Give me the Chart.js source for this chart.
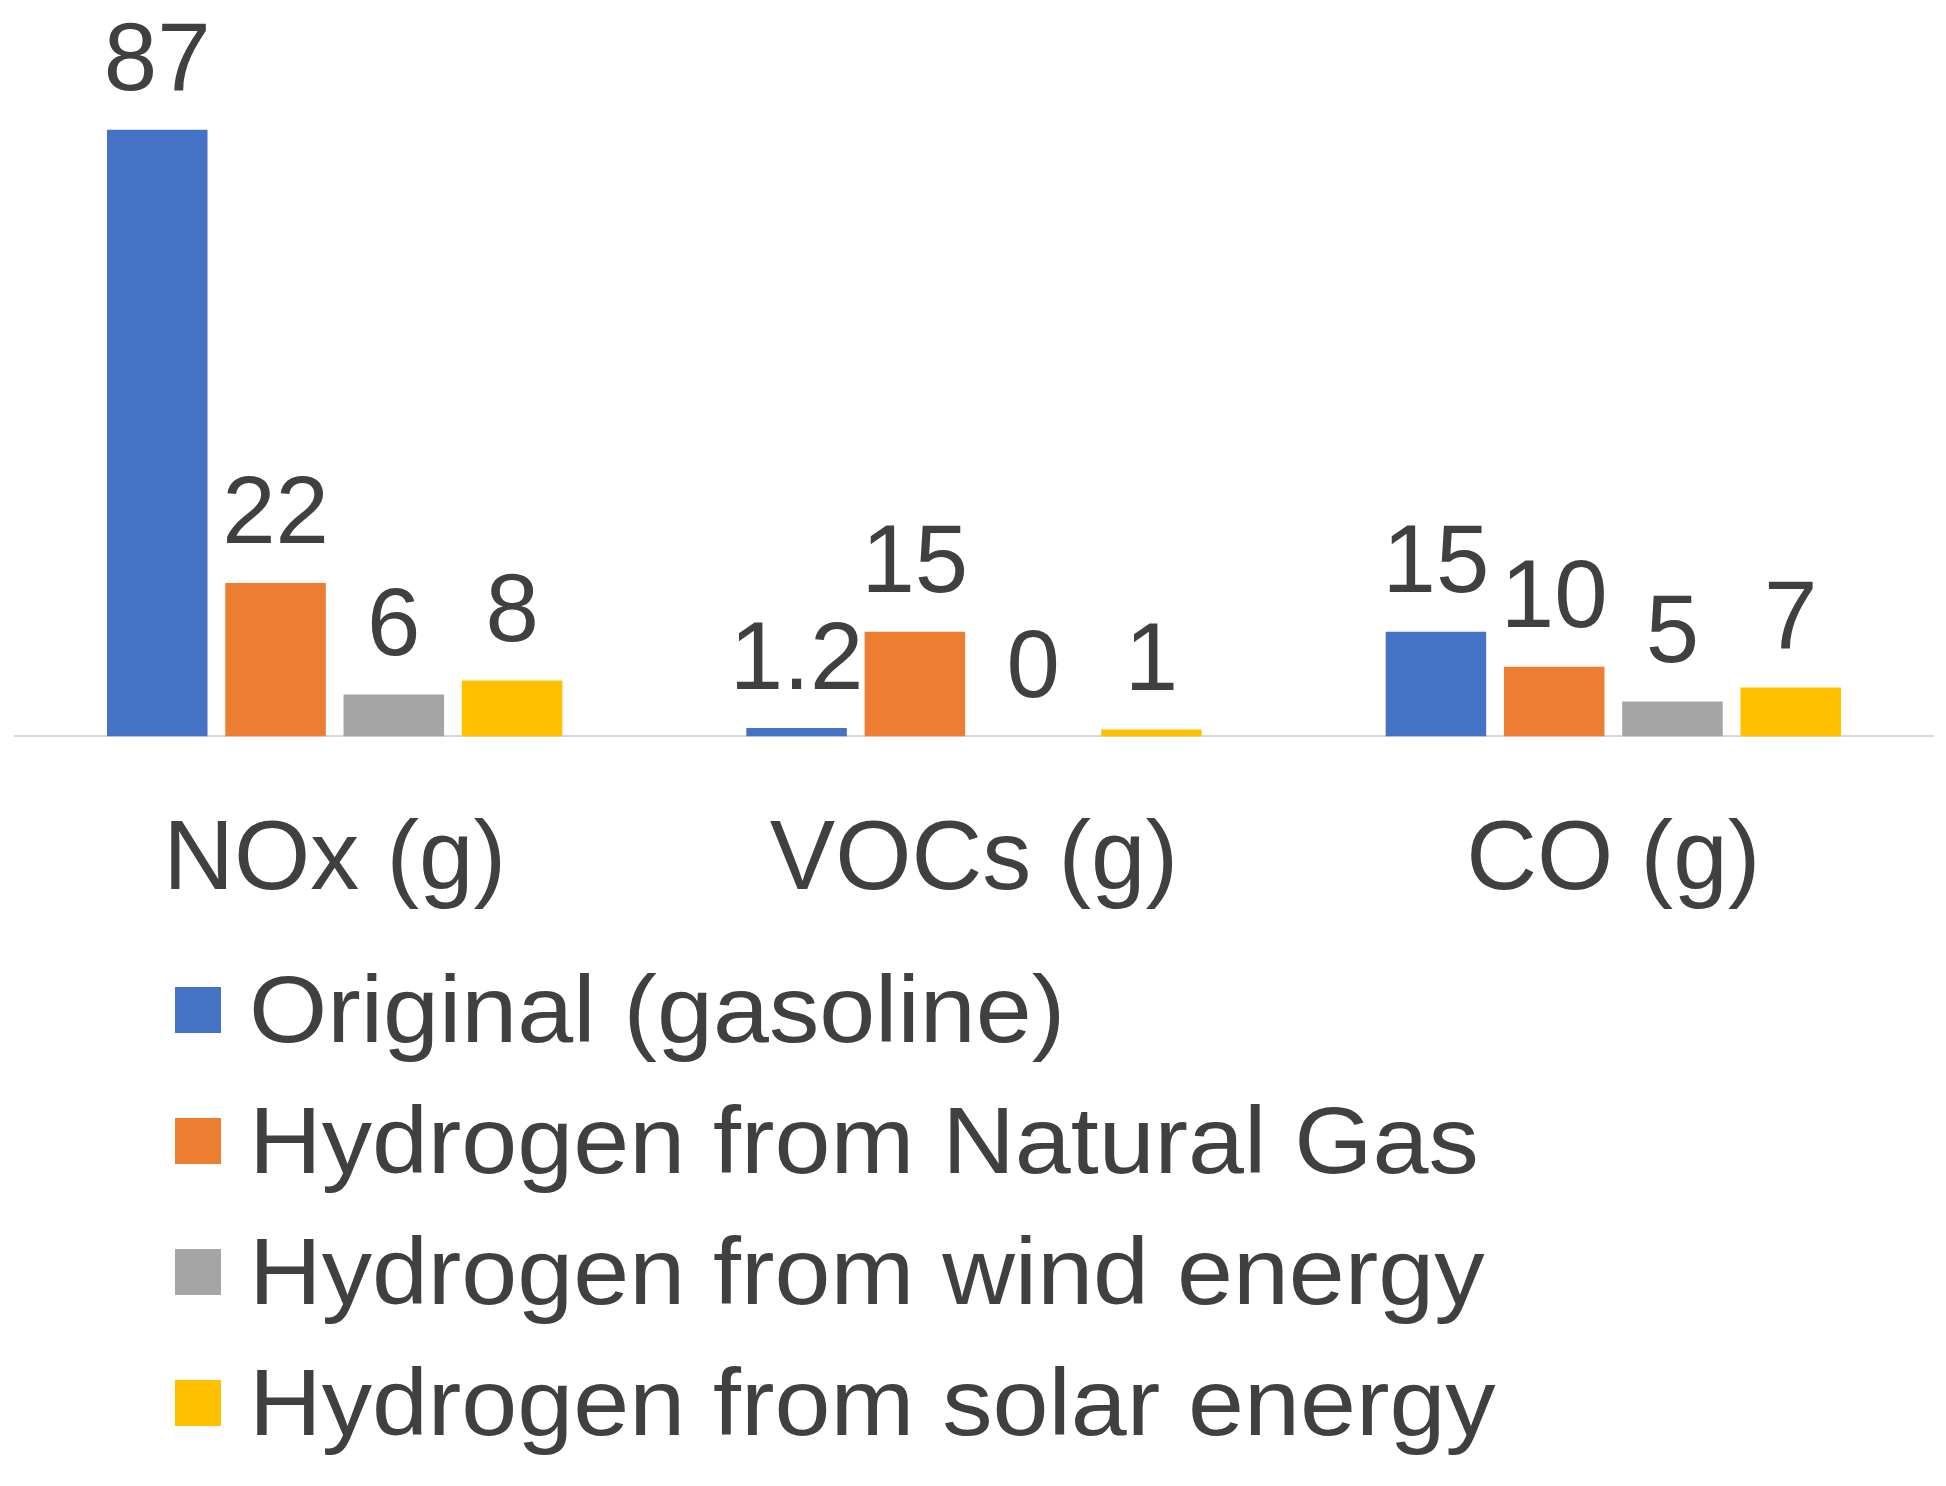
<!DOCTYPE html>
<html>
<head>
<meta charset="utf-8">
<script src="https://cdn.jsdelivr.net/npm/chart.js@4"></script>
<style>
  body { margin: 0; background: #fff; font-family: "Liberation Sans", Arial, sans-serif; }
  #wrap { position: relative; width: 1946px; height: 988px; }
  #legend { position: absolute; left: 175px; top: 944px; color: #404040; font-size: 94px; }
  .item { height: 131px; display: flex; align-items: center; }
  .box { width: 46px; height: 46px; margin-right: 28px; flex: none; }
  .txt { display: inline-block; transform: scaleX(1.07); transform-origin: left center; white-space: nowrap; }
</style>
</head>
<body>
<div id="wrap"><canvas id="emChart"></canvas></div>
<div id="legend"></div>
<script>
// Dữ liệu
const categories = ['NOx (g)', 'VOCs (g)', 'CO (g)'];
const seriesNames = ['Original (gasoline)', 'Hydrogen from Natural Gas', 'Hydrogen from wind energy', 'Hydrogen from solar energy'];
const original = [87, 1.2, 15];
const naturalGas = [22, 15, 10];
const wind = [6, 0, 5];
const solar = [8, 1, 7];
const colors = ['#4472C4', '#ED7D31', '#A5A5A5', '#FFC000'];

const seriesValues = [original, naturalGas, wind, solar];

// Vẽ nhãn giá trị trên cột
const valueLabels = {
    id: 'valueLabels',
    afterDatasetsDraw(chart) {
        const ctx = chart.ctx;
        ctx.save();
        ctx.font = '96px "Liberation Sans", Arial, sans-serif';
        ctx.fillStyle = '#404040';
        ctx.textAlign = 'center';
        ctx.textBaseline = 'bottom';
        chart.data.datasets.forEach((ds, i) => {
            chart.getDatasetMeta(i).data.forEach((bar, j) => {
                ctx.fillText(String(ds.data[j]), bar.x, bar.y - 18);
            });
        });
        ctx.restore();
    }
};

const ctx = document.getElementById('emChart').getContext('2d');
new Chart(ctx, {
    type: 'bar',
    data: {
        labels: categories,
        datasets: seriesNames.map((name, i) => ({
            label: name,
            data: seriesValues[i],
            backgroundColor: colors[i],
            barPercentage: 0.85,
            categoryPercentage: 0.74
        }))
    },
    options: {
        responsive: true,
        maintainAspectRatio: false,
        animation: false,
        layout: { padding: { left: 15, right: 13, top: 0, bottom: 0 } },
        plugins: {
            legend: { display: false },
            tooltip: { enabled: false }
        },
        scales: {
            y: { display: false, min: 0, max: 105.6 },
            x: {
                grid: { display: false, drawTicks: false },
                border: { color: '#D9D9D9', width: 2 },
                ticks: {
                    color: '#404040',
                    padding: 67,
                    font: { size: 98, family: '"Liberation Sans", Arial, sans-serif' }
                }
            }
        }
    },
    plugins: [valueLabels]
});

// Chú thích
const legend = document.getElementById('legend');
seriesNames.forEach((name, i) => {
    const row = document.createElement('div');
    row.className = 'item';
    row.innerHTML = `<span class="box" style="background:${colors[i]}"></span><span class="txt">${name}</span>`;
    legend.appendChild(row);
});
</script>
</body>
</html>
